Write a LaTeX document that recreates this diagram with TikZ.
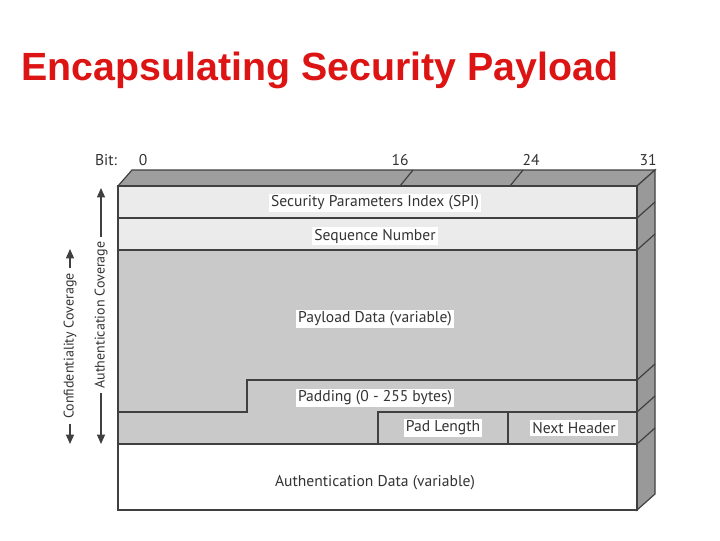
\documentclass[tikz,border=0pt]{standalone}
\usepackage{fontspec}
\setmainfont{PT Sans}
\newfontfamily\titlefont{Liberation Sans}
\begin{document}
\begin{tikzpicture}[x=0.75pt,y=-0.75pt,
  fld/.style={draw=black!75,line width=0.9pt},
  lbl/.style={fill=white,inner sep=1.5pt,font=\fontsize{11.7}{13}\selectfont,text=black!80},
  bit/.style={font=\fontsize{11.7}{13}\selectfont,text=black!80},
  cov/.style={-{Triangle[length=7pt,width=6pt]},line width=0.9pt,black!75}]
\useasboundingbox (0,0) rectangle (720,540);
\usetikzlibrary{arrows.meta}
\node[anchor=west,font=\titlefont\bfseries\fontsize{29.5}{32}\selectfont,text={rgb,255:red,220;green,20;blue,20}] (title) at (17,70) {Encapsulating Security Payload};
% top and right faces
\fill[black!38,fld] (118,186) -- (132,170) -- (655,170) -- (637,186) -- cycle;
\fill[black!40,fld] (637,186) -- (655,170) -- (655,494) -- (637,510) -- cycle;
\draw[fld] (400,186) -- (413,170) (510,186) -- (523,170);
\foreach \y in {218,250,380,412,444} \draw[fld] (637,\y) -- (655,\y-16);
% rows
\draw[fld,fill=black!8] (118,186) rectangle (637,218);
\draw[fld,fill=black!8] (118,218) rectangle (637,250);
\draw[fld,fill=black!21] (118,250) rectangle (637,444);
\draw[fld] (118,412) -- (247,412) -- (247,380) -- (637,380);
\draw[fld] (378,444) -- (378,412) -- (637,412) (508,412) -- (508,444);
\draw[fld,fill=white] (118,444) rectangle (637,510);
% labels
\node[lbl] (spi) at (375,203) {Security Parameters Index (SPI)};
\node[lbl] (seq) at (375,236) {Sequence Number};
\node[lbl] (pay) at (375,319) {Payload Data (variable)};
\node[lbl] (pad) at (375,398) {Padding (0 - 255 bytes)};
\node[lbl] (pl) at (443,428) {Pad Length};
\node[lbl] (nh) at (574,428) {Next Header};
\node[lbl] (ad) at (375,483) {Authentication Data (variable)};
\node[bit] (b) at (106,160) {Bit:};
\node[bit] (b0) at (143,160) {0};
\node[bit] (b16) at (400,160) {16};
\node[bit] (b24) at (531,160) {24};
\node[bit] (b31) at (648,160) {31};
% coverage arrows
\node[bit,rotate=90,font=\fontsize{10.5}{11}\selectfont] (ac) at (101,315) {Authentication Coverage};
\node[bit,rotate=90,font=\fontsize{10.5}{11}\selectfont] (cc) at (70,346) {Confidentiality Coverage};
\coordinate (a1) at (101,188); \coordinate (a2) at (101,444);
\coordinate (c1) at (70,249); \coordinate (c2) at (70,444);
\draw[cov] (ac.east) -- (a1); \draw[cov] (ac.west) -- (a2);
\draw[cov] (cc.east) -- (c1); \draw[cov] (cc.west) -- (c2);
\end{tikzpicture}
\end{document}
